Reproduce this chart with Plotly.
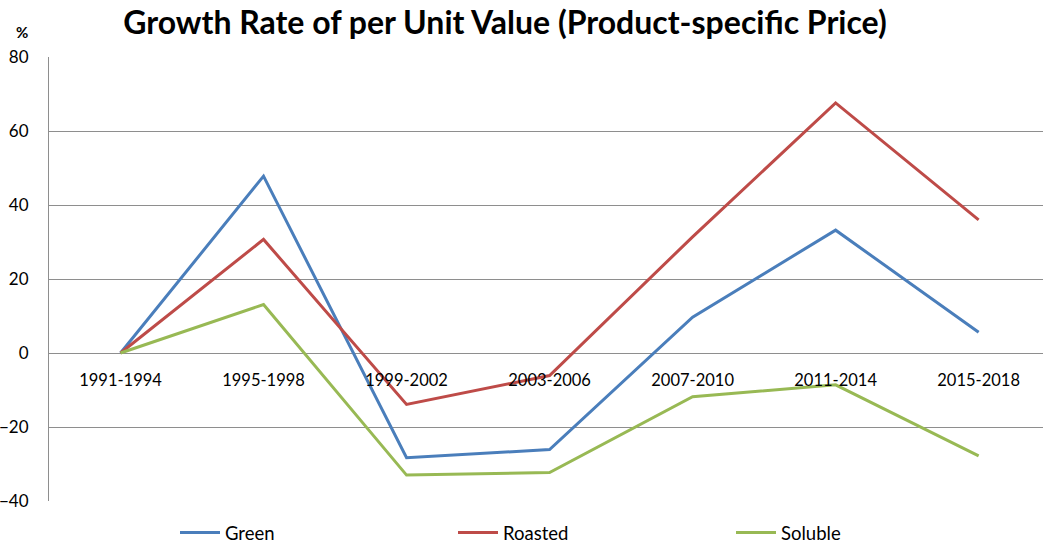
import plotly.graph_objects as go

categories = ["1991-1994", "1995-1998", "1999-2002", "2003-2006", "2007-2010", "2011-2014", "2015-2018"]
green = [0, 47.8, -28.3, -26.1, 9.7, 33.2, 5.6]
roasted = [0, 30.7, -13.9, -6.1, 31.4, 67.6, 36.0]
soluble = [0, 13.1, -33.0, -32.3, -11.8, -8.6, -27.8]

series = [("Green", green, "#4A7EBB"), ("Roasted", roasted, "#BE4B48"), ("Soluble", soluble, "#98B954")]

W, H = 1044, 545
L, R, T, B = 49, 1, 57, 44

fig = go.Figure()
for name, vals, col in series:
    fig.add_trace(go.Scatter(x=list(range(len(categories))), y=vals, name=name, mode="lines",
                             line=dict(color=col, width=3)))

font_family = "Lato, Calibri, Carlito, sans-serif"
fig.update_layout(
    width=W, height=H,
    margin=dict(l=L, r=R, t=T, b=B, autoexpand=False),
    paper_bgcolor="white", plot_bgcolor="white",
    font=dict(family=font_family, size=16, color="#000000"),
    title=dict(text="<b>Growth Rate of per Unit Value (Product-specific Price)</b>",
               x=505 / W, xanchor="center", xref="container",
               y=1 - 23 / H, yanchor="middle", yref="container",
               font=dict(size=32, family=font_family, color="#000000")),
    showlegend=True,
    legend=dict(orientation="h", x=175 / W, xanchor="left", xref="container",
                y=1 - 533 / H, yanchor="middle", yref="container",
                entrywidth=223, entrywidthmode="pixels",
                font=dict(size=18.5, family=font_family), itemwidth=40),
    xaxis=dict(range=[-0.5, 6.45], tickmode="array", tickvals=list(range(len(categories))),
               ticktext=categories, showgrid=False, zeroline=False, showline=False,
               anchor="free", position=1/3, ticks="", ticklabelstandoff=15, automargin=False,
               tickfont=dict(size=16.5, family=font_family)),
    yaxis=dict(range=[-40, 80], tickvals=[-40, -20, 0, 20, 40, 60, 80], showgrid=True,
               gridcolor="#8E8E8E", gridwidth=1, zeroline=False, showline=True,
               linecolor="#8E8E8E", linewidth=1, ticks="", ticklabelstandoff=16, automargin=False,
               tickfont=dict(size=17, family=font_family)),
    annotations=[dict(text="<b>%</b>", x=0, y=1, xref="paper", yref="paper",
                      showarrow=False, xanchor="center", yanchor="middle",
                      font=dict(size=15, family=font_family))],
)
# % label positioned relative to the plot area (paper coords)
fig.layout.annotations[0].update(x=(22 - L) / (W - L - R), y=1 + (T - 32) / (H - T - B))

fig.write_html("out.html", config={"displayModeBar": False},
               post_script="document.body.style.margin='0';")
